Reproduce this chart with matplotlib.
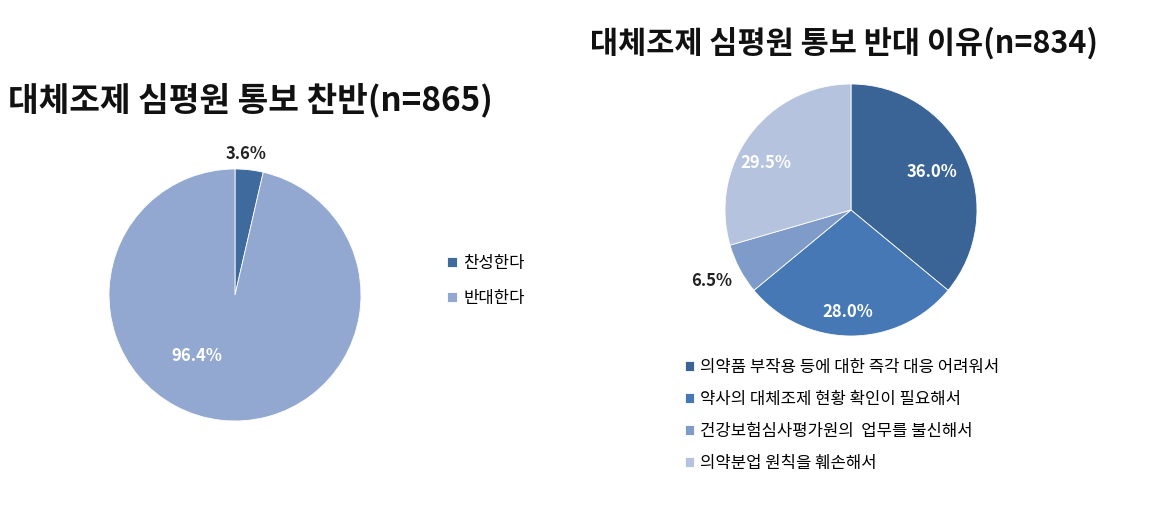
import numpy as np
import matplotlib.pyplot as plt

plt.rcParams['font.family'] = ['Noto Sans CJK KR', 'DejaVu Sans']

# ---------- data ----------
left_title = "대체조제 심평원 통보 찬반(n=865)"
left_labels = ["찬성한다", "반대한다"]
left_values = [3.6, 96.4]

right_title = "대체조제 심평원 통보 반대 이유(n=834)"
right_labels = ["의약품 부작용 등에 대한 즉각 대응 어려워서",
                "약사의 대체조제 현황 확인이 필요해서",
                "건강보험심사평가원의  업무를 불신해서",
                "의약분업 원칙을 훼손해서"]
right_values = [36.0, 28.0, 6.5, 29.5]

# ---------- style ----------
left_colors = ["#3F6A9E", "#93A8D0"]
right_colors = ["#3A6496", "#4678B5", "#7E9BCA", "#B5C3DF"]

W, H = 1164, 514
fig = plt.figure(figsize=(W / 100, H / 100), dpi=100)
fig.patch.set_facecolor("white")


def pie_axes(cx, cy, r):
    # centre and radius given in pixels of the output image
    return fig.add_axes([(cx - r) / W, 1 - (cy + r) / H, 2 * r / W, 2 * r / H])


def draw_pie(ax, values, colors, dist, shift, txt_colors):
    wedges, _ = ax.pie(values, colors=colors, startangle=90, counterclock=False,
                       wedgeprops=dict(edgecolor="white", linewidth=0.6))
    for w, v, d, s, c in zip(wedges, values, dist, shift, txt_colors):
        ang = np.deg2rad((w.theta1 + w.theta2) / 2 + s)
        ax.text(d * np.cos(ang), d * np.sin(ang), f"{v:.1f}%", ha="center", va="center",
                fontsize=12, fontweight="bold", color=c)
    ax.set_xlim(-1, 1)
    ax.set_ylim(-1, 1)
    ax.axis("off")
    return wedges


# left pie
axl = pie_axes(235, 295, 126)
wl = draw_pie(axl, left_values, left_colors, [1.12, 0.57], [2, -26], ["#222222", "white"])
fig.text(8 / W, 1 - 100 / H, left_title, fontsize=24, fontweight="bold",
         ha="left", va="center", color="#111111")
fig.legend(wl, left_labels, loc="upper left", bbox_to_anchor=(440 / W, 1 - 248 / H),
           frameon=False, fontsize=12, handlelength=0.6, handleheight=0.6,
           handletextpad=0.4, labelspacing=1.08, borderaxespad=0)

# right pie
axr = pie_axes(851, 210, 126)
wr = draw_pie(axr, right_values, right_colors, [0.71, 0.81, 1.24, 0.77], [0, -2, -1, 8],
              ["white", "white", "#222222", "white"])
fig.text(590 / W, 1 - 43 / H, right_title, fontsize=22, fontweight="bold",
         ha="left", va="center", color="#111111")
fig.legend(wr, right_labels, loc="upper left", bbox_to_anchor=(678 / W, 1 - 352 / H),
           frameon=False, fontsize=12, handlelength=0.55, handleheight=0.55,
           handletextpad=0.4, labelspacing=0.9, borderaxespad=0)

fig.savefig("out.png", dpi=100)
